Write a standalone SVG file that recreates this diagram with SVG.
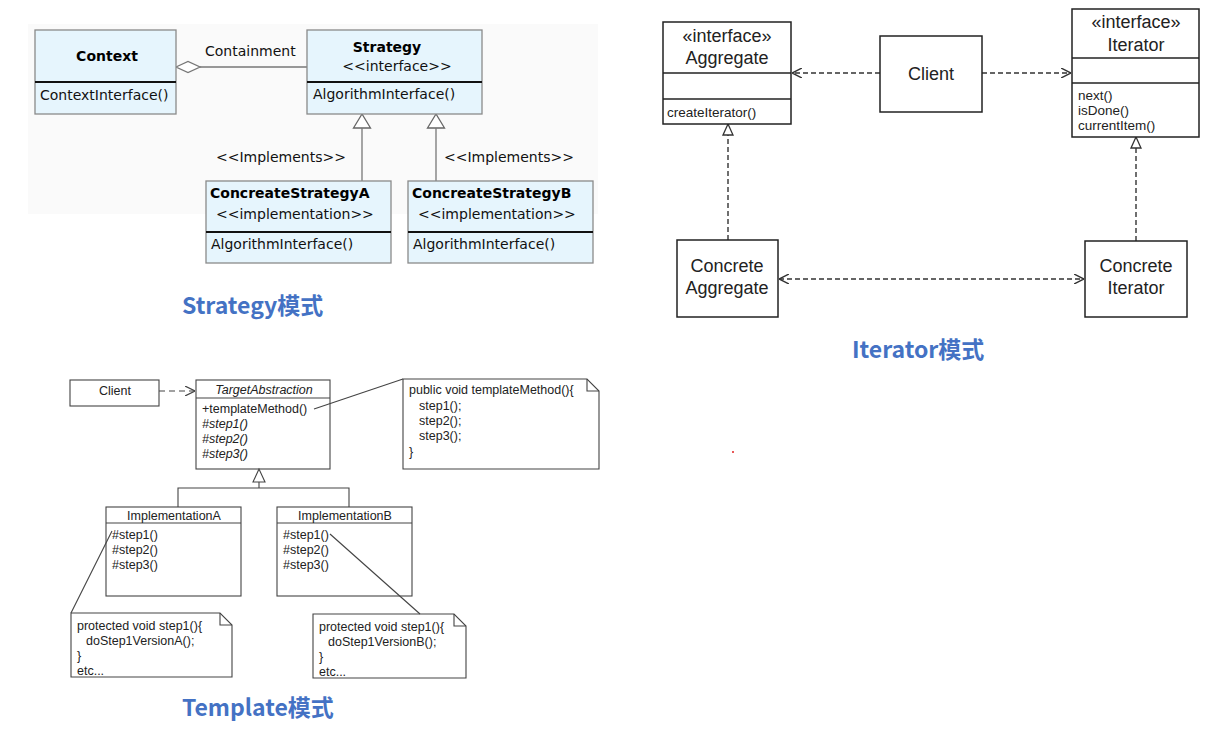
<svg xmlns="http://www.w3.org/2000/svg" width="1205" height="729" viewBox="0 0 1205 729">
  <style>
    .bg { fill: #ffffff; }
    .band { fill: #fafafa; }
    .sbox { fill: #e6f5fd; stroke: #8a8a8a; stroke-width: 1.3; }
    .sdiv { stroke: #111; stroke-width: 2.2; }
    .st { font-family: "DejaVu Sans", sans-serif; font-size: 14px; fill: #111; }
    .stb { font-family: "DejaVu Sans", sans-serif; font-size: 14px; font-weight: bold; fill: #000; }
    .sline { stroke: #777; stroke-width: 1.3; fill: none; }
    .ibox { fill: #fff; stroke: #222; stroke-width: 1.5; }
    .idiv { stroke: #222; stroke-width: 1.3; }
    .it { font-family: "Liberation Sans", Arial, sans-serif; font-size: 18px; fill: #222; }
    .its { font-family: "Liberation Sans", Arial, sans-serif; font-size: 13.5px; fill: #222; }
    .idash { stroke: #333; stroke-width: 1.4; stroke-dasharray: 5 3; fill: none; }
    .tbox { fill: #fff; stroke: #444; stroke-width: 1.1; }
    .tdiv { stroke: #444; stroke-width: 1.1; }
    .tt { font-family: "Liberation Sans", Arial, sans-serif; font-size: 12.5px; fill: #222; }
    .tti { font-family: "Liberation Sans", Arial, sans-serif; font-size: 12.5px; font-style: italic; fill: #222; }
    .tline { stroke: #444; stroke-width: 1.1; fill: none; }
    .title { font-family: "Noto Sans CJK SC", "Liberation Sans", sans-serif; font-size: 23px; font-weight: bold; fill: #4472c4; }
  </style>
  <defs>
    <marker id="openArrow" viewBox="0 0 10 10" refX="10" refY="5" markerWidth="10" markerHeight="10" markerUnits="userSpaceOnUse" orient="auto-start-reverse">
      <path d="M0,0 L10,5 L0,10" fill="none" stroke="#333" stroke-width="1.4"/>
    </marker>
    <marker id="openArrowT" viewBox="0 0 10 10" refX="10" refY="5" markerWidth="10" markerHeight="10" markerUnits="userSpaceOnUse" orient="auto">
      <path d="M0,0 L10,5 L0,10" fill="none" stroke="#444" stroke-width="1.2"/>
    </marker>
    <marker id="hollowTri" viewBox="0 0 12 12" refX="12" refY="6" markerWidth="12" markerHeight="12" markerUnits="userSpaceOnUse" orient="auto">
      <path d="M1,1 L12,6 L1,11 Z" fill="#fff" stroke="#333" stroke-width="1.3"/>
    </marker>
  </defs>

  <rect class="bg" x="0" y="0" width="1205" height="729"/>

  <!-- Strategy pattern -->
  <rect class="band" x="28" y="24" width="570" height="190"/>

  <g id="strategy-connectors">
    <line class="sline" x1="200" y1="67" x2="307" y2="67"/>
    <polygon points="176,67 188,61.5 200,67 188,72.5" fill="#fff" stroke="#777" stroke-width="1.3"/>
    <polygon points="362,114 353.5,128 370.5,128" fill="#fff" stroke="#666" stroke-width="1.3"/>
    <line class="sline" x1="362" y1="128" x2="362" y2="181"/>
    <polygon points="436,114 427.5,128 444.5,128" fill="#fff" stroke="#666" stroke-width="1.3"/>
    <line class="sline" x1="436" y1="128" x2="436" y2="181"/>
    <text class="st" x="205" y="56">Containment</text>
    <text class="st" x="216" y="162">&lt;&lt;Implements&gt;&gt;</text>
    <text class="st" x="444" y="162">&lt;&lt;Implements&gt;&gt;</text>
  </g>

  <g id="context">
    <rect class="sbox" x="35" y="30" width="141" height="84"/>
    <line class="sdiv" x1="35" y1="82" x2="176" y2="82"/>
    <text class="stb" x="107" y="61" text-anchor="middle" font-size="15">Context</text>
    <text class="st" x="40" y="100">ContextInterface()</text>
  </g>

  <g id="strategy">
    <rect class="sbox" x="307" y="30" width="175" height="84"/>
    <line class="sdiv" x1="307" y1="82" x2="482" y2="82"/>
    <text class="stb" x="387" y="52" text-anchor="middle">Strategy</text>
    <text class="st" x="397" y="71" text-anchor="middle">&lt;&lt;interface&gt;&gt;</text>
    <text class="st" x="313" y="99">AlgorithmInterface()</text>
  </g>

  <g id="concrete-strategy-a">
    <rect class="sbox" x="206" y="181" width="185" height="82"/>
    <line class="sdiv" x1="206" y1="232" x2="391" y2="232"/>
    <text class="stb" x="210" y="198">ConcreateStrategyA</text>
    <text class="st" x="216" y="219">&lt;&lt;implementation&gt;&gt;</text>
    <text class="st" x="211" y="249">AlgorithmInterface()</text>
  </g>

  <g id="concrete-strategy-b">
    <rect class="sbox" x="408" y="181" width="185" height="82"/>
    <line class="sdiv" x1="408" y1="232" x2="593" y2="232"/>
    <text class="stb" x="412" y="198">ConcreateStrategyB</text>
    <text class="st" x="418" y="219">&lt;&lt;implementation&gt;&gt;</text>
    <text class="st" x="413" y="249">AlgorithmInterface()</text>
  </g>

  <text class="title" x="182" y="314">Strategy模式</text>

  <!-- Iterator pattern -->
  <g id="iterator-connectors">
    <line class="idash" x1="880" y1="73" x2="792" y2="73" marker-end="url(#openArrow)"/>
    <line class="idash" x1="982" y1="73" x2="1071" y2="73" marker-end="url(#openArrow)"/>
    <line class="idash" x1="728" y1="240" x2="728" y2="124" marker-end="url(#hollowTri)"/>
    <line class="idash" x1="1136" y1="241" x2="1136" y2="137" marker-end="url(#hollowTri)"/>
    <line class="idash" x1="779" y1="279" x2="1084" y2="279" marker-start="url(#openArrow)" marker-end="url(#openArrow)"/>
  </g>

  <g id="aggregate">
    <rect class="ibox" x="663" y="22" width="128" height="102"/>
    <line class="idiv" x1="663" y1="73" x2="791" y2="73"/>
    <line class="idiv" x1="663" y1="99" x2="791" y2="99"/>
    <text class="it" x="727" y="42" text-anchor="middle" font-size="16">«interface»</text>
    <text class="it" x="727" y="64" text-anchor="middle">Aggregate</text>
    <text class="its" x="667" y="117" font-size="14">createIterator()</text>
  </g>

  <g id="iterator-client">
    <rect class="ibox" x="880" y="36" width="102" height="76"/>
    <text class="it" x="931" y="80" text-anchor="middle">Client</text>
  </g>

  <g id="iterator">
    <rect class="ibox" x="1072" y="9" width="127" height="128"/>
    <line class="idiv" x1="1072" y1="58" x2="1199" y2="58"/>
    <line class="idiv" x1="1072" y1="83" x2="1199" y2="83"/>
    <text class="it" x="1136" y="28" text-anchor="middle" font-size="16">«interface»</text>
    <text class="it" x="1136" y="51" text-anchor="middle">Iterator</text>
    <text class="its" x="1078" y="100">next()</text>
    <text class="its" x="1078" y="115">isDone()</text>
    <text class="its" x="1078" y="130">currentItem()</text>
  </g>

  <g id="concrete-aggregate">
    <rect class="ibox" x="677" y="240" width="101" height="77"/>
    <text class="it" x="727" y="272" text-anchor="middle">Concrete</text>
    <text class="it" x="727" y="294" text-anchor="middle">Aggregate</text>
  </g>

  <g id="concrete-iterator">
    <rect class="ibox" x="1085" y="241" width="102" height="76"/>
    <text class="it" x="1136" y="272" text-anchor="middle">Concrete</text>
    <text class="it" x="1136" y="294" text-anchor="middle">Iterator</text>
  </g>

  <text class="title" x="852" y="358">Iterator模式</text>

  <circle cx="733" cy="452" r="1" fill="#e02020"/>

  <!-- Template method pattern -->
  <g id="template-client">
    <rect class="tbox" x="70" y="380" width="89" height="26"/>
    <text class="tt" x="115" y="395" text-anchor="middle" font-size="13">Client</text>
  </g>

  <g id="target-abstraction">
    <rect class="tbox" x="196" y="380" width="134" height="89"/>
    <line class="tdiv" x1="196" y1="398" x2="330" y2="398"/>
    <text class="tti" x="264" y="394" text-anchor="middle">TargetAbstraction</text>
    <text class="tt" x="202" y="413">+templateMethod()</text>
    <text class="tti" x="202" y="428">#step1()</text>
    <text class="tti" x="202" y="443">#step2()</text>
    <text class="tti" x="202" y="458">#step3()</text>
  </g>

  <g id="template-note">
    <path class="tbox" d="M403,379 H587 L599,391 V469 H403 Z"/>
    <path class="tline" d="M587,379 V391 H599"/>
    <text class="tt" x="409" y="394">public void templateMethod(){</text>
    <text class="tt" x="419" y="410">step1();</text>
    <text class="tt" x="419" y="425">step2();</text>
    <text class="tt" x="419" y="440">step3();</text>
    <text class="tt" x="409" y="456">}</text>
  </g>

  <g id="implementation-a">
    <rect class="tbox" x="106" y="507" width="135" height="89"/>
    <line class="tdiv" x1="106" y1="523" x2="241" y2="523"/>
    <text class="tt" x="174" y="520" text-anchor="middle">ImplementationA</text>
    <text class="tt" x="112" y="539">#step1()</text>
    <text class="tt" x="112" y="554">#step2()</text>
    <text class="tt" x="112" y="569">#step3()</text>
  </g>

  <g id="implementation-b">
    <rect class="tbox" x="277" y="507" width="135" height="89"/>
    <line class="tdiv" x1="277" y1="523" x2="412" y2="523"/>
    <text class="tt" x="345" y="520" text-anchor="middle">ImplementationB</text>
    <text class="tt" x="283" y="539">#step1()</text>
    <text class="tt" x="283" y="554">#step2()</text>
    <text class="tt" x="283" y="569">#step3()</text>
  </g>

  <g id="note-a">
    <path class="tbox" d="M71,613 H220 L232,625 V677 H71 Z"/>
    <path class="tline" d="M220,613 V625 H232"/>
    <text class="tt" x="77" y="630">protected void step1(){</text>
    <text class="tt" x="86" y="645">doStep1VersionA();</text>
    <text class="tt" x="77" y="660">}</text>
    <text class="tt" x="77" y="675">etc...</text>
  </g>

  <g id="note-b">
    <path class="tbox" d="M313,614 H454 L466,626 V678 H313 Z"/>
    <path class="tline" d="M454,614 V626 H466"/>
    <text class="tt" x="319" y="631">protected void step1(){</text>
    <text class="tt" x="328" y="646">doStep1VersionB();</text>
    <text class="tt" x="319" y="661">}</text>
    <text class="tt" x="319" y="676">etc...</text>
  </g>

  <g id="template-connectors">
    <line class="tline" x1="159" y1="391" x2="195" y2="391" stroke-dasharray="6 4" marker-end="url(#openArrowT)"/>
    <polygon points="259,469 253,482 265,482" fill="#fff" stroke="#444" stroke-width="1.1"/>
    <path class="tline" d="M259,482 V488 M178,507 V488 H349 V507"/>
    <line class="tline" x1="314" y1="409" x2="403" y2="379"/>
    <line class="tline" x1="71" y1="613" x2="112" y2="531"/>
    <line class="tline" x1="330" y1="534" x2="420" y2="614"/>
  </g>

  <text class="title" x="182" y="716">Template模式</text>
</svg>
